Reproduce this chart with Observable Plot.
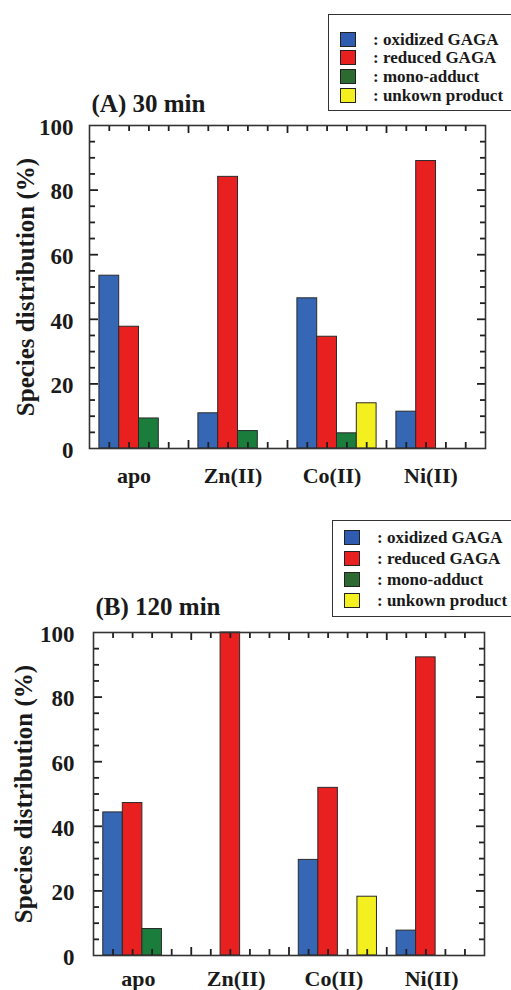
<!DOCTYPE html>
<html><head><meta charset="utf-8">
<script src="https://cdn.jsdelivr.net/npm/d3@7"></script>
<script src="https://cdn.jsdelivr.net/npm/@observablehq/plot@0.6"></script>
<style>
body{margin:0;background:#fff;}
#root{position:relative;width:511px;height:990px;overflow:hidden;font-family:"Liberation Serif","Times New Roman",serif;font-weight:bold;color:#1a1a1a;background:#fff;}
.panel{position:absolute;left:0;}
.legend{position:absolute;border:1.3px solid #333;background:#fff;box-sizing:border-box;}
.row{position:absolute;left:0;display:flex;align-items:center;font-size:17px;font-weight:bold;white-space:nowrap;line-height:1}
.sw{width:16px;height:15px;border:1px solid #222;box-sizing:border-box;margin-left:11px;margin-right:17px;flex:none}
</style>
</head><body>
<div id="root"></div>
<script>
// ---- data ----
const metals = ["apo", "Zn(II)", "Co(II)", "Ni(II)"];
const species = ["oxidized GAGA", "reduced GAGA", "mono-adduct", "unkown product"];
const colors = ["#3567b5", "#e8201f", "#1a7d3c", "#f4ef1f"];
const legendColors = ["#2f5cb0", "#e8201f", "#2d6a32", "#f4ef1f"];
const yTicks = [0, 20, 40, 60, 80, 100];

// (A) 30 min
const oxidized30 = [53.5, 10.9, 46.5, 11.4];
const reduced30  = [37.7, 84.1, 34.6, 89.0];
const mono30     = [9.3, 5.4, 4.7, 0];
const unknown30  = [0, 0, 14.0, 0];
// (B) 120 min
const oxidized120 = [44.3, 0, 29.6, 7.7];
const reduced120  = [47.2, 100, 51.9, 92.3];
const mono120     = [8.2, 0, 0, 0];
const unknown120  = [0, 0, 18.2, 0];

const titleA = "(A) 30 min";
const titleB = "(B) 120 min";
const yLabel = "Species distribution (%)";

// ---- helpers ----
const FONT = '"Liberation Serif","Times New Roman",serif';
const slots = 5; // slots per metal group on x
const H = 495;

function rowsOf(seriesList) {
  const out = [];
  seriesList.forEach((vals, j) => vals.forEach((v, i) => {
    if (v > 0) out.push({metal: metals[i], species: species[j], i, j, value: v});
  }));
  return out;
}

function tickMarks(pxPerUnit) {
  const xs = d3.range(1, metals.length * slots);
  const xMaj = xs.filter(d => d % slots === 0), xMin = xs.filter(d => d % slots !== 0);
  const ys = d3.range(5, 100, 5);
  const yMaj = ys.filter(d => d % 20 === 0), yMin = ys.filter(d => d % 20 !== 0);
  const stroke = "#1f1f1f", strokeWidth = 1.8;
  const out = [];
  for (const [data, len] of [[xMaj, 8], [xMin, 6]]) {
    const u = len / pxPerUnit;
    out.push(Plot.ruleX(data, {x: d => d, y1: d => 0, y2: d => u, stroke, strokeWidth}));
    out.push(Plot.ruleX(data, {x: d => d, y1: d => 100 - u, y2: d => 100, stroke, strokeWidth}));
  }
  const common = {stroke, strokeWidth, tickFormat: () => "", label: null};
  for (const [data, len] of [[yMaj, 9], [yMin, 6]]) {
    out.push(Plot.axisY(data, {...common, anchor: "left", tickSize: len, dx: len}));
    out.push(Plot.axisY(data, {...common, anchor: "right", tickSize: len, dx: -len}));
  }
  return out;
}

function panel({rows, title, marginTop, marginBottom, marginLeft, marginRight, tickPad, labelDy, labelDx, yLabelDx, titleDy}) {
  const pxPerUnit = (H - marginTop - marginBottom) / 100;
  return Plot.plot({
    width: 511, height: H,
    marginTop, marginBottom, marginLeft, marginRight,
    style: {fontFamily: FONT, fontWeight: "bold", color: "#1a1a1a", background: "transparent", overflow: "visible"},
    x: {domain: [0, metals.length * slots], axis: null},
    y: {domain: [0, 100], axis: null},
    color: {domain: species, range: colors},
    marks: [
      Plot.rect(rows, {
        x1: d => d.i * slots + 0.5 + d.j,
        x2: d => d.i * slots + 1.5 + d.j,
        y1: d => 0, y2: "value",
        fill: "species", stroke: "#2a2a2a", strokeWidth: 1
      }),
      ...tickMarks(pxPerUnit),
      Plot.frame({stroke: "#333", strokeWidth: 1.6}),
      Plot.axisY(yTicks, {tickSize: 0, tickPadding: tickPad, fontSize: 23, dy: 2, label: null, tickFormat: d => d}),
      Plot.text(metals, {x: (d, i) => i * slots + 2.5, frameAnchor: "bottom", lineAnchor: "top", dy: labelDy, dx: labelDx, fontSize: 22, text: d => d}),
      Plot.text([yLabel], {frameAnchor: "left", textAnchor: "middle", rotate: -90, dx: yLabelDx, fontSize: 25, text: d => d}),
      Plot.text([title], {frameAnchor: "top-left", textAnchor: "start", lineAnchor: "top", dy: titleDy, dx: 2, fontSize: 25, text: d => d})
    ]
  });
}

function legend({left, top, height, firstCenter, step}) {
  const box = document.createElement("div");
  box.className = "legend";
  Object.assign(box.style, {left: left + "px", top: top + "px", width: (511 - left + 2) + "px", height: height + "px"});
  species.forEach((s, k) => {
    const row = document.createElement("div");
    row.className = "row";
    row.style.top = (firstCenter + k * step - 9) + "px";
    row.style.height = "18px";
    const sw = document.createElement("div");
    sw.className = "sw";
    sw.style.background = legendColors[k];
    const tx = document.createElement("span");
    tx.textContent = ": " + s;
    row.appendChild(sw); row.appendChild(tx);
    box.appendChild(row);
  });
  return box;
}

const root = document.getElementById("root");

const a = panel({rows: rowsOf([oxidized30, reduced30, mono30, unknown30]), title: titleA,
  marginTop: 125, marginBottom: 47, marginLeft: 89, marginRight: 26,
  tickPad: 16, labelDy: 19, labelDx: -5, yLabelDx: -64, titleDy: -31});
a.classList.add("panel"); a.style.top = "0px";
root.appendChild(a);

const b = panel({rows: rowsOf([oxidized120, reduced120, mono120, unknown120]), title: titleB,
  marginTop: 137, marginBottom: 35, marginLeft: 93, marginRight: 27,
  tickPad: 19, labelDy: 15, labelDx: -4, yLabelDx: -70, titleDy: -35});
b.classList.add("panel"); b.style.top = "495px";
root.appendChild(b);

root.appendChild(legend({left: 328, top: 14, height: 97, firstCenter: 24, step: 18.7}));
root.appendChild(legend({left: 332, top: 520, height: 97, firstCenter: 16, step: 21.3}));
</script>
</body></html>
